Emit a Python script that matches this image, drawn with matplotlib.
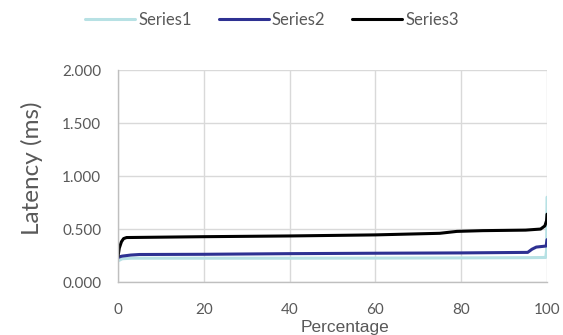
import matplotlib
matplotlib.use('Agg')
import matplotlib.pyplot as plt

# percentile positions and latency values (ms)
pct1 = [0, 0.5, 1, 3, 20, 40, 60, 80, 95, 99.7, 99.9, 100]
series1 = [0.20, 0.21, 0.22, 0.225, 0.225, 0.225, 0.226, 0.228, 0.23, 0.232, 0.30, 0.80]

pct2 = [0, 0.5, 1, 3, 5, 20, 40, 60, 80, 95.5, 96.5, 97.5, 99.8, 100]
series2 = [0.23, 0.24, 0.245, 0.255, 0.26, 0.262, 0.268, 0.272, 0.275, 0.28, 0.31, 0.33, 0.34, 0.40]

pct3 = [0, 0.3, 0.8, 1.3, 2, 20, 40, 60, 75, 79, 85, 95, 98.5, 99.5, 99.9, 100]
series3 = [0.24, 0.32, 0.38, 0.41, 0.42, 0.428, 0.435, 0.445, 0.46, 0.478, 0.485, 0.49, 0.50, 0.53, 0.58, 0.64]

yticks = [0, 0.5, 1.0, 1.5, 2.0]
xticks = [0, 20, 40, 60, 80, 100]

fig = plt.figure(figsize=(5.63, 3.35), dpi=100)
ax = fig.add_axes([0.2096, 0.158, 0.762, 0.633])

ax.plot(pct1, series1, color='#b7e1e4', lw=2.2, label='Series1', solid_capstyle='round')
ax.plot(pct2, series2, color='#2e3192', lw=2.2, label='Series2', solid_capstyle='round')
ax.plot(pct3, series3, color='#000000', lw=2.2, label='Series3', solid_capstyle='round')

ax.set_xlim(0, 100)
ax.set_ylim(0, 2.0)
ax.set_xticks(xticks)
ax.set_yticks(yticks)
ax.set_yticklabels(['%.3f' % v for v in yticks], fontfamily='Lato', fontsize=11, color='#595959')
ax.set_xticklabels([str(v) for v in xticks], fontfamily='Lato', fontsize=11, color='#595959')
ax.tick_params(axis='y', length=0, pad=12)
ax.tick_params(axis='x', length=0, pad=15)
ax.grid(True, color='#d9d9d9', lw=1)
ax.set_axisbelow(True)
for s in ['top', 'right']:
    ax.spines[s].set_visible(False)
for s in ['left', 'bottom']:
    ax.spines[s].set_color('#bfbfbf')
    ax.spines[s].set_linewidth(1)

ax.set_ylabel('Latency (ms)', fontfamily='Lato', fontsize=17.5, color='#595959')
ax.yaxis.set_label_coords(-0.175, 0.538)
ax.set_xlabel('Percentage', fontfamily='Liberation Sans', fontsize=12.5, color='#595959')
ax.xaxis.set_label_coords(0.53, -0.18)

leg = fig.legend(loc='center', bbox_to_anchor=(0.483, 0.94), ncol=3, frameon=False,
                 handlelength=3.0, columnspacing=1.6, handletextpad=0.2,
                 prop={'family': 'Lato', 'size': 12})
for t in leg.get_texts():
    t.set_color('#595959')

fig.savefig('out.png', dpi=100)
